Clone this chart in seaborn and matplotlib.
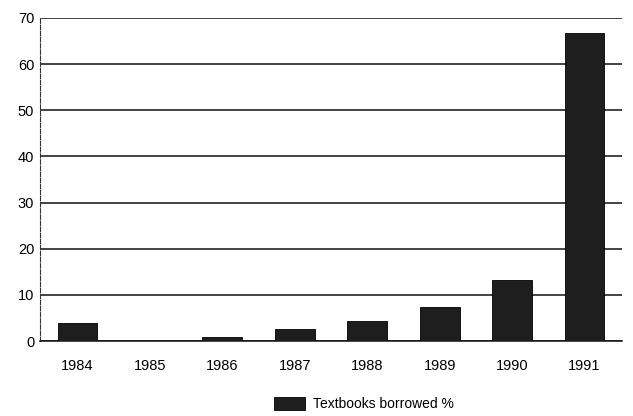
import matplotlib
matplotlib.use("Agg")
import matplotlib.pyplot as plt
import seaborn as sns
import pandas as pd

years = ["1984", "1985", "1986", "1987", "1988", "1989", "1990", "1991"]
borrowed = [3.9, 0.0, 0.8, 2.6, 4.3, 7.4, 13.2, 66.8]
yticks = [0, 10, 20, 30, 40, 50, 60, 70]
series_label = "Textbooks borrowed %"

sns.set_theme(style="white")
plt.rcParams["font.family"] = ["Liberation Sans", "DejaVu Sans"]
plt.rcParams["text.color"] = "black"
plt.rcParams["xtick.color"] = "black"
plt.rcParams["ytick.color"] = "black"

df = pd.DataFrame({"year": years, "value": borrowed, "series": series_label})

fig = plt.figure(figsize=(6.33, 4.16), dpi=100)
ax = fig.add_axes([0.063, 0.18, 0.92, 0.777])

sns.barplot(data=df, x="year", y="value", hue="series", palette=["#1e1e1e"],
            width=0.55, ax=ax, zorder=3, edgecolor="#000000", linewidth=0.6)

ax.set_ylim(0, 70)
ax.set_xlim(-0.52, 7.52)
ax.set_yticks(yticks)
ax.set_yticklabels([str(t) for t in yticks], fontsize=10.5)
for lab in ax.get_xticklabels():
    lab.set_fontsize(10.5)
ax.tick_params(axis="x", pad=13, length=0)
ax.tick_params(axis="y", pad=4, length=0)
ax.set_xlabel("")
ax.set_ylabel("")
ax.yaxis.grid(True, color="#111111", linewidth=1.1, zorder=0)
ax.xaxis.grid(False)
for s in ["top", "right"]:
    ax.spines[s].set_visible(False)
ax.spines["left"].set_color("#333333")
ax.spines["left"].set_linewidth(0.8)
ax.spines["left"].set_linestyle((0, (4, 1.5)))
ax.spines["bottom"].set_color("#111111")
ax.spines["bottom"].set_linewidth(1.1)

handles, labels = ax.get_legend_handles_labels()
ax.get_legend().remove()
fig.legend(handles, labels, loc="center", bbox_to_anchor=(0.575, 0.028), frameon=False,
           fontsize=10, handlelength=2.2, handleheight=1.0, handletextpad=0.6,
           borderpad=0.1)

fig.savefig("out.png", dpi=100)
